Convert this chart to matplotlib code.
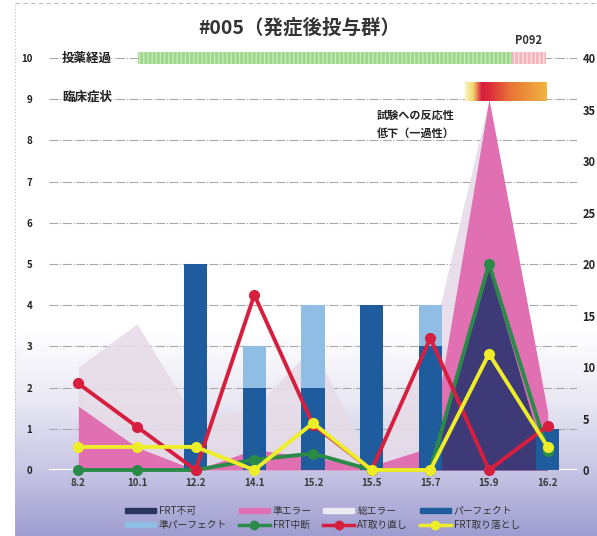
import numpy as np
import matplotlib
matplotlib.use("Agg")
import matplotlib.pyplot as plt
from matplotlib.patches import Patch
from matplotlib.lines import Line2D
from matplotlib.colors import LinearSegmentedColormap

plt.rcParams['font.family'] = ['Noto Sans CJK JP', 'DejaVu Sans']

# ---------------- data ----------------
categories = ["8.2", "10.1", "12.2", "14.1", "15.2", "15.5", "15.7", "15.9", "16.2"]
frt_fuka = [0, 0, 0, 0, 0, 0, 0, 4.9, 0]                       # FRT不可 (area)
jun_error = [1.55, 0.55, 0, 0.5, 0.3, 0.1, 0.55, 9.0, 1.4]       # 準エラー (area)
sou_error = [2.5, 3.55, 1.2, 1.5, 3.0, 0.1, 3.0, 9.0, 1.4]       # 総エラー (area)
perfect = [0, 0, 5, 2, 2, 4, 3, 0, 1]                            # パーフェクト (bar)
jun_perfect = [0, 0, 0, 1, 2, 0, 1, 0, 0]                        # 準パーフェクト (stacked bar)
frt_chudan = [0, 0, 0, 0.25, 0.4, 0, 0, 5.0, 0.45]               # FRT中断
at_torinaoshi = [2.1, 1.05, 0, 4.25, 1.1, 0, 3.2, 0, 1.07]       # AT取り直し
frt_toriotoshi = [0.56, 0.56, 0.56, 0, 1.14, 0, 0, 2.82, 0.56]   # FRT取り落とし
left_ticks = list(range(0, 11))
right_ticks = list(range(0, 41, 5))

title = "#005（発症後投与群）"

# ---------------- figure ----------------
W, H = 597, 536
fig = plt.figure(figsize=(W / 100, H / 100), dpi=100)

# background gradient
bg = fig.add_axes([0, 0, 1, 1], zorder=-10)
bg.set_axis_off()
ys = np.linspace(0, 1, 300)  # 0 = bottom
stops_y = [0.0, (536 - 470) / 536, (536 - 400) / 536, (536 - 330) / 536, 1.0]
stops_c = [np.array(matplotlib.colors.to_rgb(c)) for c in
           ["#9f9dd0", "#c8c6e5", "#eae9f4", "#ffffff", "#ffffff"]]
grad = np.zeros((300, 1, 3))
for i in range(3):
    grad[:, 0, i] = np.interp(ys, stops_y, [c[i] for c in stops_c])
bg.imshow(grad, origin="lower", extent=[15 / W, 1, 0, 1], aspect="auto",
          transform=bg.transAxes)
bg.set_xlim(0, 1)
bg.set_ylim(0, 1)
bg.plot([15 / W, 15 / W], [0, 0.995], color="#bbbbbb", lw=0.8, ls=(0, (1, 2)))
bg.plot([15 / W, 1], [0.995, 0.995], color="#bbbbbb", lw=0.8, ls=(0, (4, 3)))

px_per_unit = 41.2
ax_left, ax_right = 49 / W, 577 / W
ax_bottom = (H - 470) / H
ax_height = 10.5 * px_per_unit / H
ax = fig.add_axes([ax_left, ax_bottom, ax_right - ax_left, ax_height])
ax.set_facecolor("none")
ax.patch.set_alpha(0)

x = np.arange(len(categories))
ax.set_xlim(-0.5, len(categories) - 0.5)
ax.set_ylim(0, 10.5)

# grid lines
for t in left_ticks[1:]:
    ax.axhline(t, color="#a8a8a8", lw=0.8, ls=(0, (8, 1.5, 1, 1.5)), zorder=0.5)
ax.axhline(0, color="white", lw=1.5, zorder=0.6)

# areas
ax.fill_between(x, sou_error, color="#e6dce8", alpha=0.9, lw=0, zorder=1)
ax.fill_between(x, jun_error, color="#e070b2", lw=0, zorder=2)
ax.fill_between(x, frt_fuka, color="#3e3a78", lw=0, zorder=3)

# bars
bw = 0.4
ax.bar(x, perfect, width=bw, color="#1f5c9e", zorder=4)
ax.bar(x, jun_perfect, width=bw, bottom=perfect, color="#8fbde4", zorder=4)

# lines
lw, ms = 2.8, 7
ax.plot(x, frt_chudan, color="#2a8a48", lw=lw, marker="o", ms=ms, zorder=6, clip_on=False)
ax.plot(x, at_torinaoshi, color="#d61f3e", lw=lw, marker="o", ms=ms, zorder=7, clip_on=False)
ax.plot(x, frt_toriotoshi, color="#eeee28", lw=lw, marker="o", ms=ms, zorder=8, clip_on=False)

# top rows: 投薬経過 / 臨床症状
ax.barh(10, 7.39 - 1.02, left=1.02, height=0.28, color="#9ed68c",
        edgecolor="#c4ecb8", hatch="||||", lw=0, zorder=3)
ax.barh(10, 7.98 - 7.39, left=7.39, height=0.28, color="#f2b6bc",
        edgecolor="#fbe0e2", hatch="||||", lw=0, zorder=3)
ax.text(7.68, 10.42, "P092", ha="center", va="center", fontsize=8,
        fontweight="bold", color="#333333")
cmap = LinearSegmentedColormap.from_list(
    "clin", [(0.0, "#faf4c4"), (0.1, "#f2d468"), (0.2, "#d81e3c"),
             (0.3, "#dc2c3a"), (0.55, "#e87438"), (1.0, "#f0b440")])
gx = np.linspace(0, 1, 200)[None, :]
ax.imshow(gx, cmap=cmap, extent=[6.59, 7.98, 8.96, 9.4], aspect="auto",
          zorder=3, interpolation="bilinear")
ax.set_xlim(-0.5, len(categories) - 0.5)
ax.set_ylim(0, 10.5)

ax.text(-0.28, 10, "投薬経過", ha="left", va="center", fontsize=9,
        fontweight="bold", color="#222222")
ax.text(-0.28, 9.05, "臨床症状", ha="left", va="center", fontsize=9,
        fontweight="bold", color="#222222")
ax.text(5.09, 8.62, "試験への反応性", ha="left", va="center", fontsize=8,
        fontweight="bold", color="#222222")
ax.text(5.09, 8.18, "低下（一過性）", ha="left", va="center", fontsize=8,
        fontweight="bold", color="#222222")

# axes styling
for s in ax.spines.values():
    s.set_visible(False)
ax.set_xticks(x)
ax.set_xticklabels(categories, fontsize=7, fontweight="bold", color="#3a3a3a")
ax.set_yticks(left_ticks)
ax.set_yticklabels([str(t) for t in left_ticks], fontsize=7, fontweight="bold",
                   fontstyle="italic", color="#222222")
ax.tick_params(axis="both", length=0)
ax.tick_params(axis="y", pad=12)
ax.tick_params(axis="x", pad=6)

ax2 = ax.twinx()
ax2.set_ylim(0, 42)
ax2.set_yticks(right_ticks)
ax2.set_yticklabels([str(t) for t in right_ticks], fontsize=8, fontweight="bold",
                    color="#222222")
ax2.tick_params(axis="y", length=0, pad=4)
for s in ax2.spines.values():
    s.set_visible(False)
ax2.patch.set_alpha(0)

fig.text(0.502, 1 - 28 / H, title, ha="center", va="center", fontsize=14,
         fontweight="bold", color="#333333")

# legend (row-major order rearranged for column filling)
h_fuka = Patch(color="#2a3560", label="FRT不可")
h_jun = Patch(color="#e070b2", label="準エラー")
h_sou = Patch(color="#eeeaf2", label="総エラー")
h_perf = Patch(color="#1f5c9e", label="パーフェクト")
h_jperf = Patch(color="#8fbde4", label="準パーフェクト")
h_chu = Line2D([], [], color="#2a8a48", lw=2.5, marker="o", ms=6, label="FRT中断")
h_at = Line2D([], [], color="#d61f3e", lw=2.5, marker="o", ms=6, label="AT取り直し")
h_oto = Line2D([], [], color="#eeee28", lw=2.5, marker="o", ms=6, label="FRT取り落とし")
handles = [h_fuka, h_jperf, h_jun, h_chu, h_sou, h_at, h_perf, h_oto]
leg = fig.legend(handles=handles, ncol=4, loc="center",
                 bbox_to_anchor=(0.54, 1 - 518 / H), frameon=False,
                 fontsize=7, handlelength=3.2, handleheight=0.45,
                 columnspacing=1.2, labelspacing=0.45, handletextpad=0.3)
for t in leg.get_texts():
    t.set_color("#333333")

fig.savefig("out.png", dpi=100)
